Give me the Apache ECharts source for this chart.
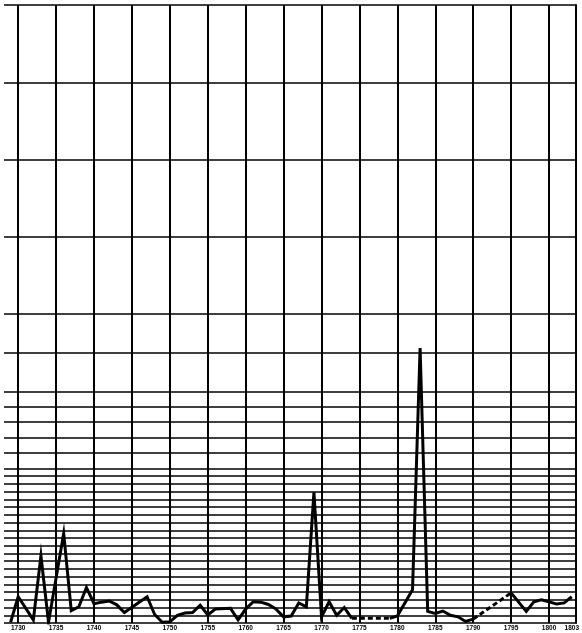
<!DOCTYPE html>
<html>
<head>
<meta charset="utf-8">
<script src="https://cdn.jsdelivr.net/npm/echarts@6/dist/echarts.min.js"></script>
<style>html,body{margin:0;padding:0;background:#fff;}#c{width:582px;height:633px;}</style>
</head>
<body>
<div id="c"></div>
<script>
// Data (year, value)
const years = [1729,1730,1732,1733,1734,1736,1737,1738,1739,1740,1741,1742,1743,1744,1747,1748,1749,1750,1751,1752,1753,1754,1755,1756,1758,1759,1760,1761,1762,1763,1764,1765,1766,1767,1768,1769,1770,1771,1772,1773,1774,1779,1780,1782,1783,1784,1785,1786,1787,1788,1789,1790,1795,1797,1798,1799,1800,1801,1802,1803];
const values = [0.1,3.4,0.4,8.7,0.1,11.6,1.6,2.1,4.6,2.5,2.7,2.85,2.35,1.35,3.4,1.1,0.1,0.15,1.0,1.3,1.35,2.3,1.05,1.8,1.9,0.4,1.8,2.75,2.7,2.4,1.8,0.8,0.9,2.6,2.1,16.9,0.8,2.75,1.0,2.0,0.6,0.6,0.9,4.3,35.6,1.5,1.25,1.55,1.0,0.8,0.2,0.5,3.9,1.5,2.75,3.0,2.75,2.45,2.6,3.4];
// spans drawn as dashed lines (no data in between)
const dashedSpans = [[1774,1779],[1790,1795]];
// grid lines
const verticalGridYears = [1730,1735,1740,1745,1750,1755,1760,1765,1770,1775,1780,1785,1790,1795,1800];
const horizontalGridValues = [0,1,2,3,4,5,6,7,8,9,10,11,12,13,14,15,16,17,18,19,20,22,24,26,28,30,35,40,50,60,70,80];
const tickLabels = [1730,1735,1740,1745,1750,1755,1760,1765,1770,1775,1780,1785,1790,1795,1800,1803];

const segments = [];
let cur = [[years[0], values[0]]];
for (let i = 1; i < years.length; i++) {
  const a = years[i-1], b = years[i];
  const dashed = dashedSpans.some(s => s[0] === a && s[1] === b);
  if (dashed) {
    segments.push({dashed:false, pts:cur});
    segments.push({dashed:true, pts:[[a, values[i-1]],[b, values[i]]]});
    cur = [[b, values[i]]];
  } else {
    cur.push([b, values[i]]);
  }
}
segments.push({dashed:false, pts:cur});

const series = [
  {
    type:'line', data:[], silent:true, z:1,
    markLine:{
      symbol:['none','none'], silent:true, animation:false,
      label:{show:false},
      lineStyle:{color:'#000', width:1.7, type:'solid'},
      emphasis:{disabled:true},
      data: horizontalGridValues.map(v => ({yAxis:v}))
    }
  },
  {
    type:'line', data:[], silent:true, z:1,
    markLine:{
      symbol:['none','none'], silent:true, animation:false,
      label:{show:false},
      lineStyle:{color:'#000', width:2, type:'solid'},
      emphasis:{disabled:true},
      data: verticalGridYears.map(y => ({xAxis:y}))
    }
  }
];
segments.forEach(s => {
  series.push({
    type:'line', data:s.pts, showSymbol:false, symbol:'none', z:5,
    lineStyle:{color:'#000', width:3, type: s.dashed ? [5,3] : 'solid', join:'miter'}
  });
});

const chart = echarts.init(document.getElementById('c'), null, {renderer:'canvas'});
chart.setOption({
  animation:false,
  backgroundColor:'#fff',
  grid:{left:4, right:2, top:5, bottom:10, containLabel:false},
  xAxis:{
    type:'value', min:1728.13, max:1803.52,
    splitLine:{show:false}, axisLine:{show:false}, axisTick:{show:false},
    axisLabel:{
      show:true, customValues:tickLabels, formatter: v => String(v),
      fontSize:6.5, fontWeight:'bold', color:'#000', margin:2,
      fontFamily:'Liberation Sans Narrow, Liberation Sans, sans-serif'
    }
  },
  yAxis:{
    type:'value', min:0, max:80, position:'right',
    axisLine:{show:true, lineStyle:{color:'#000', width:2}},
    axisTick:{show:false}, axisLabel:{show:false}, splitLine:{show:false}
  },
  series: series
});
</script>
</body>
</html>
